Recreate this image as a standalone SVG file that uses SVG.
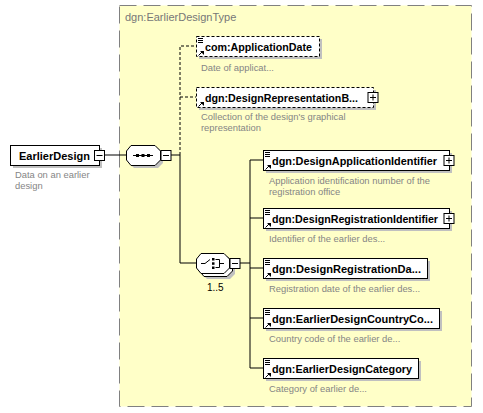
<svg xmlns="http://www.w3.org/2000/svg" width="483" height="413" viewBox="0 0 483 413">
<defs>
<style>
.lbl{font-family:"Liberation Sans",Arial,sans-serif;font-size:11px;font-weight:bold;fill:#000}
.desc{font-family:"Liberation Sans",Arial,sans-serif;font-size:9.4px;fill:#858585}
.type{font-family:"Liberation Sans",Arial,sans-serif;font-size:11px;fill:#777}
.occ{font-family:"Liberation Sans",Arial,sans-serif;font-size:10px;fill:#000}
.box{fill:#fff;stroke:#000;stroke-width:1}
.opt{fill:#fff;stroke:#000;stroke-width:1;stroke-dasharray:3,2}
.shd{fill:#c0c0c0}
.ln{stroke:#000;stroke-width:1;fill:none}
.dln{stroke:#000;stroke-width:1;fill:none;stroke-dasharray:3,2}
.ico{stroke:#000;stroke-width:1;fill:none}
</style>
<g id="eq"><path class="ico" d="M2,2.5h5M2,4.5h5M2,6.5h5"/></g>
<g id="ref"><path d="M2.5,19.5L6,16" class="ico"/><path d="M4,15h4v4z" fill="#000"/></g>
<g id="plus"><rect x="-5" y="-5" width="10" height="10" class="box"/><path d="M-3,0h6M0,-3v6" class="ico"/></g>
<g id="minus"><rect x="-5" y="-5" width="10" height="10" class="box"/><path d="M-3,0h6" class="ico"/></g>
</defs>
<rect width="483" height="413" fill="#fff"/>

<g id="complexType">
<rect x="119.5" y="5.5" width="352" height="401" fill="#ffffc8" stroke="#808080" stroke-width="1" stroke-dasharray="17,7"/>
<text class="type" x="125" y="21">dgn:EarlierDesignType</text>
</g>

<g id="connectors">
<path class="ln" d="M104,155H126M171,155H180V263M180,263H196M240,263H250M250,160V368M250,160H263M250,218H263M250,268H263M250,318H263M250,368H263"/>
<path class="dln" d="M180,155V46H196M180,97H196"/>
</g>

<g id="EarlierDesign">
<rect x="13" y="148" width="89" height="20" class="shd"/>
<rect x="10.5" y="145.5" width="89" height="20" class="box"/>
<text class="lbl" x="19" y="160">EarlierDesign</text>
<use href="#minus" x="99.5" y="155.5"/>
<text class="desc" x="15" y="178">Data on an earlier</text>
<text class="desc" x="15" y="189">design</text>
</g>

<g id="sequence">
<polygon class="shd" points="134,148 158,148 163,153 163,163 158,168 134,168 129,163 129,153"/>
<polygon class="box" points="131,145.5 155,145.5 160.5,151 160.5,160 155,165.5 131,165.5 126.5,160 126.5,151"/>
<path class="ln" d="M133,155.5H153"/>
<rect x="136" y="154" width="3" height="3" fill="#000"/>
<rect x="141.5" y="154" width="3" height="3" fill="#000"/>
<rect x="147" y="154" width="3" height="3" fill="#000"/>
<use href="#minus" x="166" y="155.5"/>
</g>

<g id="ApplicationDate">
<rect x="199" y="39" width="123" height="20" class="shd"/>
<rect x="196.5" y="36.5" width="123" height="20" class="opt"/>
<use href="#eq" x="196" y="36"/>
<use href="#ref" x="196" y="36"/>
<text class="lbl" x="205" y="51" textLength="107" lengthAdjust="spacingAndGlyphs">com:ApplicationDate</text>
<text class="desc" x="201" y="71">Date of applicat...</text>
</g>

<g id="DesignRepresentationB">
<rect x="199" y="90" width="177" height="20" class="shd"/>
<rect x="196.5" y="87.5" width="177" height="20" class="opt"/>
<use href="#ref" x="196" y="87"/>
<text class="lbl" x="205" y="102" textLength="153" lengthAdjust="spacingAndGlyphs">dgn:DesignRepresentationB...</text>
<use href="#plus" x="373" y="97.5"/>
<text class="desc" x="201" y="120">Collection of the design's graphical</text>
<text class="desc" x="201" y="131">representation</text>
</g>

<g id="choice">
<polygon class="shd" points="207,259 230,259 235,264 235,274 230,279 207,279 202,274 202,264"/>
<polygon class="box" points="204,256.5 227,256.5 232.5,262 232.5,271 227,276.5 204,276.5 199.5,271 199.5,262"/>
<polygon class="box" points="201,253.5 224,253.5 229.5,259 229.5,268 224,273.5 201,273.5 196.5,268 196.5,259"/>
<path class="ln" d="M201,263.5H205L210,259.5"/>
<rect x="212" y="258" width="2.5" height="2.5" fill="#000"/>
<rect x="212" y="262.3" width="2.5" height="2.5" fill="#000"/>
<rect x="212" y="266.5" width="2.5" height="2.5" fill="#000"/>
<path class="ln" d="M215.5,259.5H219.5V267.5H215.5M219.5,263.5H224"/>
<use href="#minus" x="235" y="263.5"/>
<text class="occ" x="207" y="291">1..5</text>
</g>

<g id="DesignApplicationIdentifier">
<rect x="266" y="153" width="186" height="20" class="shd"/>
<rect x="263.5" y="150.5" width="186" height="20" class="box"/>
<use href="#eq" x="263" y="150"/>
<use href="#ref" x="263" y="150"/>
<text class="lbl" x="272" y="165" textLength="165" lengthAdjust="spacingAndGlyphs">dgn:DesignApplicationIdentifier</text>
<use href="#plus" x="449" y="160.5"/>
<text class="desc" x="269" y="184">Application identification number of the</text>
<text class="desc" x="269" y="195">registration office</text>
</g>

<g id="DesignRegistrationIdentifier">
<rect x="266" y="211" width="186" height="20" class="shd"/>
<rect x="263.5" y="208.5" width="186" height="20" class="box"/>
<use href="#eq" x="263" y="208"/>
<use href="#ref" x="263" y="208"/>
<text class="lbl" x="272" y="223" textLength="166" lengthAdjust="spacingAndGlyphs">dgn:DesignRegistrationIdentifier</text>
<use href="#plus" x="449" y="218.5"/>
<text class="desc" x="269" y="242">Identifier of the earlier des...</text>
</g>

<g id="DesignRegistrationDate">
<rect x="266" y="261" width="164" height="20" class="shd"/>
<rect x="263.5" y="258.5" width="164" height="20" class="box"/>
<use href="#eq" x="263" y="258"/>
<use href="#ref" x="263" y="258"/>
<text class="lbl" x="272" y="273" textLength="149" lengthAdjust="spacingAndGlyphs">dgn:DesignRegistrationDa...</text>
<text class="desc" x="269" y="292">Registration date of the earlier des...</text>
</g>

<g id="EarlierDesignCountryCode">
<rect x="266" y="311" width="176" height="20" class="shd"/>
<rect x="263.5" y="308.5" width="176" height="20" class="box"/>
<use href="#eq" x="263" y="308"/>
<use href="#ref" x="263" y="308"/>
<text class="lbl" x="272" y="323" textLength="161" lengthAdjust="spacingAndGlyphs">dgn:EarlierDesignCountryCo...</text>
<text class="desc" x="269" y="342">Country code of the earlier de...</text>
</g>

<g id="EarlierDesignCategory">
<rect x="266" y="361" width="155" height="20" class="shd"/>
<rect x="263.5" y="358.5" width="155" height="20" class="box"/>
<use href="#eq" x="263" y="358"/>
<use href="#ref" x="263" y="358"/>
<text class="lbl" x="272" y="373" textLength="140" lengthAdjust="spacingAndGlyphs">dgn:EarlierDesignCategory</text>
<text class="desc" x="269" y="392">Category of earlier de...</text>
</g>
</svg>
